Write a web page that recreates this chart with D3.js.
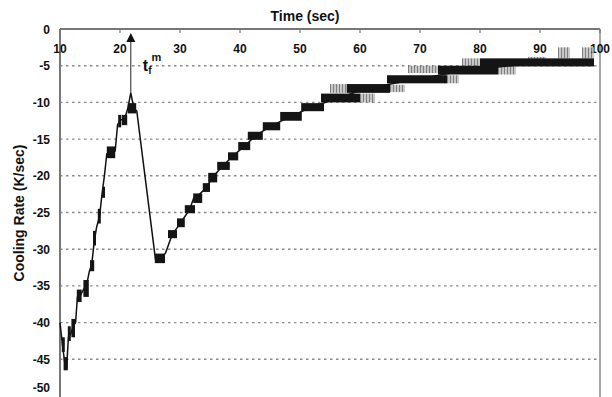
<!DOCTYPE html>
<html>
<head>
<meta charset="utf-8">
<script src="https://cdn.jsdelivr.net/npm/d3@7"></script>
<style>
  html, body { margin: 0; padding: 0; background: #fff; }
  text { font-family: "Liberation Sans", Arial, sans-serif; font-weight: bold; }
</style>
</head>
<body>
<svg id="chart" width="612" height="397"></svg>
<script>
// Tick values
const xTicks = [10, 20, 30, 40, 50, 60, 70, 80, 90, 100];
const yTicks = [0, -5, -10, -15, -20, -25, -30, -35, -40, -45, -50];
const gridLevels = [-5, -10, -15, -20, -25, -30, -35, -40, -45];

// Trace of the cooling-rate curve (time in s, rate in K/s)
const traceTime = [10, 10.4, 10.8, 11.1, 11.4, 11.8, 12.2, 12.6, 12.9, 13.4, 13.9, 14.4, 14.9, 15.3,
  15.7, 16.1, 16.6, 17.0, 17.4, 17.8, 18.5, 19.2, 19.6, 20.1, 20.8, 21.3, 21.8, 22.3, 22.8,
  25.9, 26.8, 27.6, 28.7, 29.6, 30.1, 31.6, 32.3, 32.9, 34.4, 35.4, 37.2, 38.8, 40.7, 42.5,
  45.2, 48.5, 52, 56.5, 61, 69, 78, 90, 99];
const traceRate = [-40, -43, -45.5, -46.3, -42, -41.5, -40.5, -40, -36.5, -36.3, -35.5, -35, -33, -32,
  -29, -27, -25.5, -22.5, -20, -17, -16.8, -16.6, -13, -12.4, -12.2, -10.8, -8.7, -10.8, -11.2,
  -31.3, -31.3, -30.5, -28, -27, -26.4, -24.6, -23, -22.8, -21.6, -20.2, -18.6, -17.3, -16, -14.6,
  -13.2, -11.9, -10.6, -9.4, -8.1, -6.9, -5.6, -4.6, -4.5];

// Dense (quantised) regions of the signal
const blockStart = [10.3, 10.6, 11.3, 11.9, 12.8, 13.9, 15.0, 15.5, 16.3, 17.0, 17.8, 19.7, 20.3, 21.3,
  25.8, 28.0, 29.5, 30.8, 32.2, 33.8, 34.7, 36.2, 38.0, 39.7, 41.3, 43.8, 46.7, 50.2, 53.5, 57.8, 64.5, 73, 80];
const blockEnd = [10.8, 11.3, 11.8, 12.5, 13.6, 14.8, 15.7, 16.0, 16.8, 17.5, 19.2, 20.2, 21.2, 22.7,
  27.5, 29.5, 30.8, 32.5, 33.7, 35.0, 36.2, 38.3, 39.7, 41.7, 43.8, 46.7, 50.3, 54, 60, 65, 74.5, 83, 99];
const blockTop = [-42, -44.7, -40.5, -39.5, -35.5, -34.2, -31.5, -27.5, -24.5, -21.5, -16, -11.7, -11.7, -10.1,
  -30.6, -27.4, -25.8, -24, -22.4, -21, -19.6, -18.1, -16.8, -15.4, -14, -12.7, -11.3, -10.1, -8.8, -7.5, -6.3, -5.0, -4.0];
const blockBottom = [-44, -46.5, -42.5, -42, -37.2, -36.5, -33, -29.5, -26.5, -23, -17.6, -13.4, -13.1, -11.5,
  -31.9, -28.5, -27, -25.1, -23.7, -22.2, -20.9, -19.2, -17.9, -16.5, -15.1, -13.8, -12.5, -11.2, -10, -8.7, -7.4, -6.2, -5.1];

// Fainter scatter around the dense regions
const haloStart = [55, 60, 65, 68, 74, 77, 83, 93, 97, 88];
const haloEnd = [57.8, 62.5, 67.5, 73, 76.5, 80, 86, 95, 99, 91];
const haloTop = [-7.5, -8.8, -7.6, -5.0, -6.3, -4.0, -5.0, -2.5, -2.5, -3.8];
const haloBottom = [-8.7, -10, -8.6, -6.0, -7.4, -5.0, -6.2, -4.0, -4.0, -4.6];

// Marker for t_f^m
const tfTime = 21.8;
const tfRate = -8.7;

const svg = d3.select("#chart");
const x = d3.scaleLinear([10, 100], [60, 600]);
const y = d3.scaleLinear([0, -50], [29, 396]);

// striped fill for the noisy scatter
const defs = svg.append("defs");
const pat = defs.append("pattern").attr("id", "stripes").attr("patternUnits", "userSpaceOnUse")
  .attr("width", 3).attr("height", 10);
pat.append("rect").attr("width", 3).attr("height", 10).attr("fill", "#b5b5b5");
pat.append("rect").attr("width", 1).attr("height", 10).attr("fill", "#555");

// Grid lines
svg.append("g").selectAll("line").data(gridLevels).join("line")
  .attr("x1", x(10)).attr("x2", x(100))
  .attr("y1", d => y(d)).attr("y2", d => y(d))
  .attr("stroke", "#8a8a8a").attr("stroke-width", 1.4).attr("stroke-dasharray", "2.5,3.5");

// Frame: top axis, left axis, right border
svg.append("line").attr("x1", x(10)).attr("x2", x(100)).attr("y1", y(0)).attr("y2", y(0))
  .attr("stroke", "#777").attr("stroke-width", 2);
svg.append("line").attr("x1", x(10)).attr("x2", x(10)).attr("y1", y(0)).attr("y2", 397)
  .attr("stroke", "#777").attr("stroke-width", 2);
svg.append("line").attr("x1", x(100)).attr("x2", x(100)).attr("y1", y(0)).attr("y2", 397)
  .attr("stroke", "#888").attr("stroke-width", 1.5);

// Top axis ticks + labels
svg.append("g").selectAll("line").data(xTicks).join("line")
  .attr("x1", d => x(d)).attr("x2", d => x(d))
  .attr("y1", y(0)).attr("y2", y(0) + 4)
  .attr("stroke", "#777").attr("stroke-width", 1.2);
svg.append("g").selectAll("text").data(xTicks).join("text")
  .attr("x", d => x(d)).attr("y", y(0) + 24)
  .attr("text-anchor", "middle").attr("font-size", 12).attr("fill", "#111")
  .text(d => d);

// Y tick labels (bottom one nudged up so it stays inside the picture)
svg.append("g").selectAll("text").data(yTicks).join("text")
  .attr("x", 50).attr("y", d => Math.min(y(d) + 4.5, 392))
  .attr("text-anchor", "end").attr("font-size", 12).attr("fill", "#111")
  .text(d => d);

// Axis titles
svg.append("text").attr("x", 305).attr("y", 21)
  .attr("text-anchor", "middle").attr("font-size", 14).attr("fill", "#111")
  .text("Time (sec)");
svg.append("text")
  .attr("transform", `translate(24, 213) rotate(-90)`)
  .attr("text-anchor", "middle").attr("font-size", 14).attr("fill", "#111")
  .text("Cooling Rate (K/sec)");

// Faint scatter
svg.append("g").selectAll("rect").data(haloStart).join("rect")
  .attr("x", (d, i) => x(d)).attr("width", (d, i) => x(haloEnd[i]) - x(d))
  .attr("y", (d, i) => y(haloTop[i])).attr("height", (d, i) => y(haloBottom[i]) - y(haloTop[i]))
  .attr("fill", "url(#stripes)").attr("opacity", 0.75);

// Curve trace
const pts = traceTime.map((t, i) => [t, traceRate[i]]);
svg.append("path").datum(pts)
  .attr("d", d3.line().x(d => x(d[0])).y(d => y(d[1])))
  .attr("fill", "none").attr("stroke", "#111").attr("stroke-width", 1.5);

// Dense blocks
svg.append("g").selectAll("rect").data(blockStart).join("rect")
  .attr("x", (d, i) => x(d)).attr("width", (d, i) => x(blockEnd[i]) - x(d))
  .attr("y", (d, i) => y(blockTop[i])).attr("height", (d, i) => y(blockBottom[i]) - y(blockTop[i]))
  .attr("fill", "#141414");

// t_f^m arrow
const ax = x(tfTime);
svg.append("line").attr("x1", ax).attr("x2", ax).attr("y1", y(tfRate)).attr("y2", y(0) + 12)
  .attr("stroke", "#222").attr("stroke-width", 1);
svg.append("path")
  .attr("d", `M${ax},${y(0) + 4} L${ax - 4.5},${y(0) + 13} L${ax + 4.5},${y(0) + 13} Z`)
  .attr("fill", "#111");
const lbl = svg.append("text").attr("x", ax + 12).attr("y", y(0) + 42).attr("fill", "#111");
lbl.append("tspan").attr("font-size", 16).text("t");
lbl.append("tspan").attr("font-size", 10).attr("dy", 3).text("f");
lbl.append("tspan").attr("font-size", 11).attr("dy", -13).text("m");
</script>
</body>
</html>
